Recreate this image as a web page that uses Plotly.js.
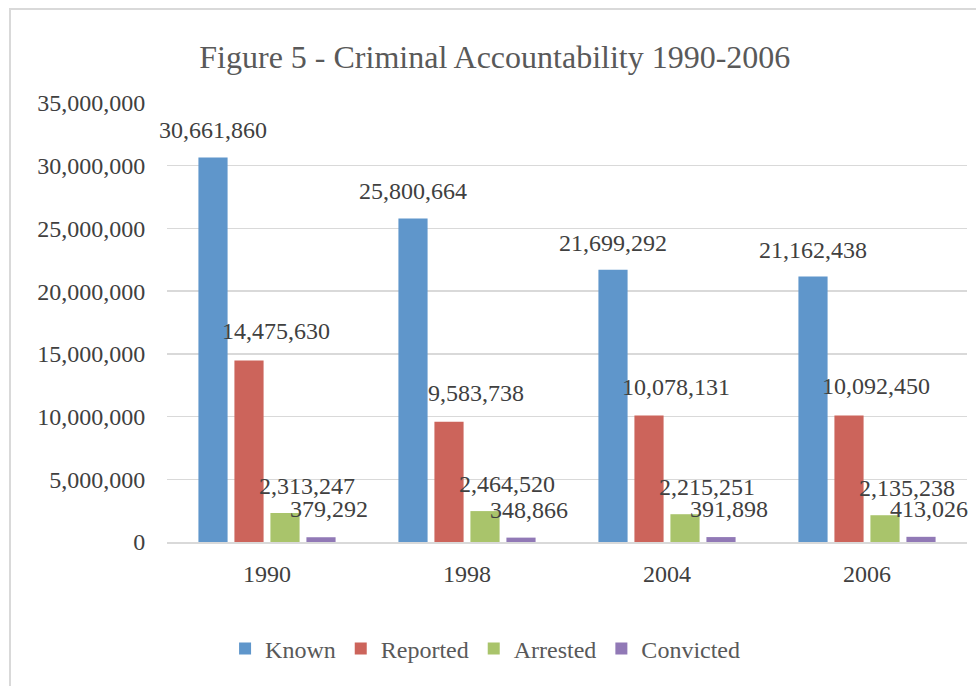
<!DOCTYPE html>
<html>
<head>
<meta charset="utf-8">
<script src="https://cdn.plot.ly/plotly-3.0.1.min.js"></script>
<style>
  html, body { margin: 0; padding: 0; background: #ffffff; }
  #wrap { position: relative; width: 976px; height: 686px; overflow: hidden; }
  #chart { position: absolute; left: 0; top: 0; width: 976px; height: 686px; }
  #frame { position: absolute; left: 9px; top: 8px; width: 990px; height: 700px;
           border-left: 2px solid #d9d9d9; border-top: 2px solid #d9d9d9; pointer-events: none; }
</style>
</head>
<body>
<div id="wrap">
  <div id="chart"></div>
  <div id="frame"></div>
</div>
<script>
// ---- data ----
const years = ["1990", "1998", "2004", "2006"];
const known = [30661860, 25800664, 21699292, 21162438];
const reported = [14475630, 9583738, 10078131, 10092450];
const arrested = [2313247, 2464520, 2215251, 2135238];
const convicted = [379292, 348866, 391898, 413026];
const seriesNames = ["Known", "Reported", "Arrested", "Convicted"];

// ---- styles ----
const colors = ["#5f96cb", "#cc645b", "#a9c46b", "#9179b6"];
const FONT = "Liberation Serif, 'Times New Roman', Times, serif";
// label pixel offsets (center of label relative to category center / bar top)
const labelDx = [-54, 9, 40, 62];
const labelDy = [27, 29, 27, 28];

const allSeries = [known, reported, arrested, convicted];

const traces = allSeries.map((vals, i) => ({
  type: "bar",
  name: seriesNames[i],
  x: years,
  y: vals,
  marker: { color: colors[i], line: { width: 0 } },
  hoverinfo: "x+y+name"
}));

const fmt = v => v.toLocaleString("en-US");

const annotations = [];
allSeries.forEach((vals, i) => {
  vals.forEach((v, j) => {
    annotations.push({
      x: j, y: v, xref: "x", yref: "y",   // category index j = years[j]
      text: fmt(v), showarrow: false,
      xanchor: "center", yanchor: "middle",
      xshift: labelDx[i], yshift: labelDy[i],
      font: { family: FONT, size: 24, color: "#404040" }
    });
  });
});

const layout = {
  width: 976, height: 686,
  paper_bgcolor: "rgba(0,0,0,0)",
  plot_bgcolor: "rgba(0,0,0,0)",
  margin: { l: 167, r: 9, t: 103, b: 144 },
  font: { family: FONT, size: 24, color: "#595959" },
  title: {
    text: "Figure 5 - Criminal Accountability 1990-2006",
    font: { family: FONT, size: 32, color: "#595959" },
    x: 0.507, xref: "container", xanchor: "center",
    y: 0.917, yref: "container", yanchor: "middle"
  },
  barmode: "group",
  bargap: 0.28,
  bargroupgap: 0.19,
  xaxis: {
    type: "category",
    categoryorder: "array", categoryarray: years,
    range: [-0.5, years.length - 0.5],
    autorange: false,
    showgrid: false,
    showline: true, linecolor: "#d9d9d9", linewidth: 1.5,
    ticks: "outside", ticklen: 10, tickcolor: "rgba(0,0,0,0)",
    tickfont: { family: FONT, size: 24, color: "#404040" },
    zeroline: false
  },
  yaxis: {
    range: [0, 35000000],
    autorange: false,
    dtick: 5000000,
    tickformat: ",d",
    showgrid: true, gridcolor: "#d9d9d9", gridwidth: 1.5,
    zeroline: false,
    showline: false,
    ticks: "outside", ticklen: 16, tickcolor: "rgba(0,0,0,0)",
    tickfont: { family: FONT, size: 24, color: "#404040" }
  },
  showlegend: true,
  legend: {
    orientation: "h",
    x: 0.497, xref: "container", xanchor: "center",
    y: 0.054, yref: "container", yanchor: "middle",
    font: { family: FONT, size: 24, color: "#595959" },
    itemwidth: 30,
    traceorder: "normal"
  },
  annotations: annotations
};

Plotly.newPlot("chart", traces, layout, { displayModeBar: false, staticPlot: true });
</script>
</body>
</html>
